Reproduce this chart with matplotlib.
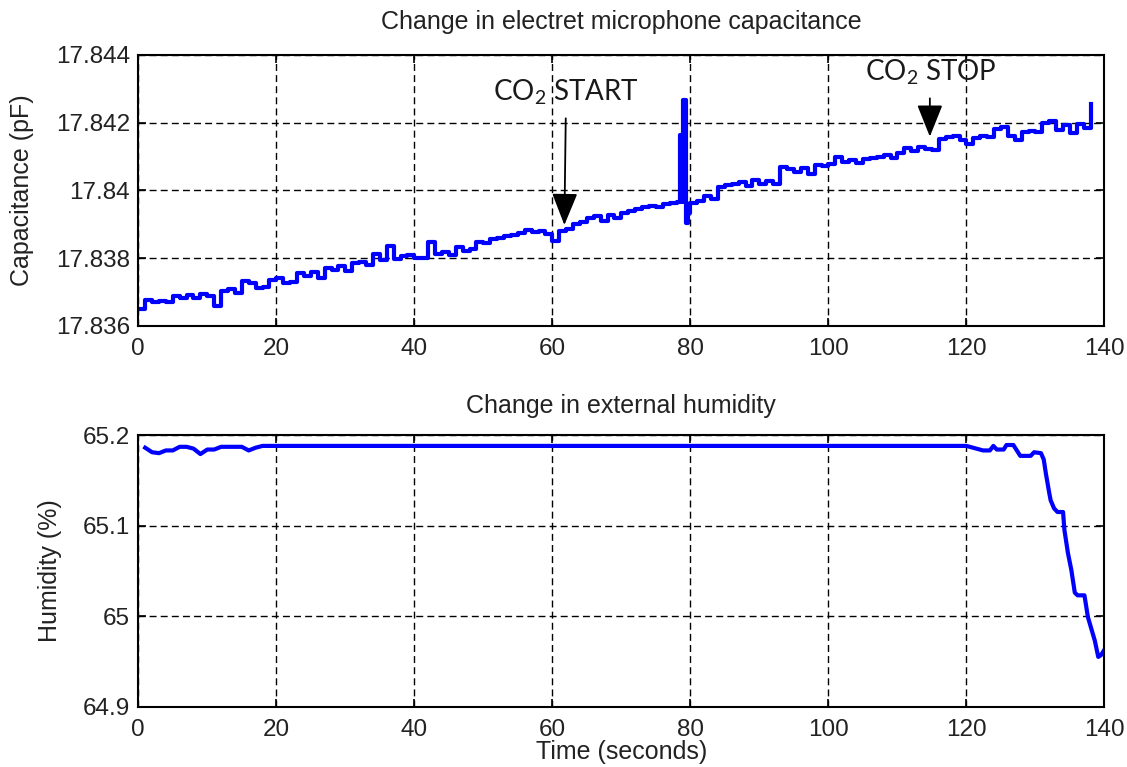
import numpy as np
import matplotlib.pyplot as plt

# capacitance samples, one per second (pF)
cap_time = np.arange(0, 139)
cap_vals = [
    17.83650, 17.83678, 17.83670, 17.83675, 17.83672, 17.83688, 17.83684, 17.83690, 17.83682, 17.83694,
    17.83688, 17.83660, 17.83702, 17.83708, 17.83698, 17.83732, 17.83728, 17.83712, 17.83714, 17.83735,
    17.83742, 17.83728, 17.83730, 17.83757, 17.83748, 17.83760, 17.83742, 17.83770, 17.83766, 17.83778,
    17.83762, 17.83785, 17.83788, 17.83780, 17.83812, 17.83796, 17.83835, 17.83798, 17.83806, 17.83810,
    17.83802, 17.83800, 17.83848, 17.83812, 17.83818, 17.83810, 17.83834, 17.83822, 17.83826, 17.83848,
    17.83845, 17.83858, 17.83860, 17.83866, 17.83870, 17.83875, 17.83882, 17.83876, 17.83880, 17.83872,
    17.83850, 17.83880, 17.83886, 17.83902, 17.83906, 17.83918, 17.83925, 17.83910, 17.83928, 17.83920,
    17.83934, 17.83938, 17.83945, 17.83950, 17.83955, 17.83952, 17.83960, 17.83962, 17.83966, 17.83966,
    17.83962, 17.83970, 17.83985, 17.83975, 17.84010, 17.84016, 17.84018, 17.84025, 17.84012, 17.84030,
    17.84018, 17.84028, 17.84020, 17.84070, 17.84062, 17.84055, 17.84065, 17.84050, 17.84075, 17.84072,
    17.84078, 17.84100, 17.84085, 17.84090, 17.84080, 17.84092, 17.84095, 17.84098, 17.84105, 17.84095,
    17.84110, 17.84125, 17.84118, 17.84128, 17.84122, 17.84120, 17.84152, 17.84158, 17.84160, 17.84148,
    17.84138, 17.84155, 17.84162, 17.84158, 17.84182, 17.84186, 17.84160, 17.84150, 17.84172, 17.84176,
    17.84172, 17.84200, 17.84205, 17.84180, 17.84192, 17.84170, 17.84195, 17.84185, 17.84255,
]
# glitch around t = 79 s
spike_time = [78.5, 79.0, 79.4, 79.6]
spike_vals = [17.84164, 17.84267, 17.83903, 17.83935]

# external humidity (%)
hum_time = [1, 2, 3, 4, 5, 6, 7, 8, 9, 10, 11, 12, 13, 15, 16, 17, 18,
            120, 122.4, 123.4, 123.9, 124.4, 125.4, 125.8, 126.8, 127.8, 129.3, 129.8,
            130.8, 131.2, 131.5, 132.0, 132.2, 132.7, 133.2, 134.0, 134.2, 134.7,
            135.2, 135.7, 136.1, 137.1, 137.6, 138.6, 139.1, 139.5, 140.0]
hum_vals = [65.186, 65.181, 65.180, 65.183, 65.183, 65.187, 65.187, 65.185, 65.179, 65.184,
            65.184, 65.187, 65.187, 65.187, 65.183, 65.186, 65.188,
            65.188, 65.183, 65.183, 65.188, 65.184, 65.184, 65.189, 65.189, 65.177, 65.177, 65.181,
            65.180, 65.173, 65.158, 65.136, 65.128, 65.119, 65.115, 65.115, 65.095, 65.070,
            65.051, 65.026, 65.023, 65.023, 64.999, 64.973, 64.955, 64.957, 64.963]

t_all = np.concatenate([cap_time, spike_time])
c_all = np.concatenate([cap_vals, spike_vals])
order = np.argsort(t_all, kind='stable')
t_all = t_all[order]
c_all = c_all[order]

plt.rcParams['font.family'] = ['Liberation Sans', 'DejaVu Sans']
txt = '#222222'
fs = 17.5


def style_axes(ax):
    ax.grid(True, color='black', linestyle=(0, (5, 3)), linewidth=1.0)
    ax.tick_params(direction='in', length=6, width=1.2, top=True, right=True,
                   labelsize=fs, labelcolor=txt)
    ax.tick_params(axis='x', pad=9)
    ax.tick_params(axis='y', pad=6)
    for s in ax.spines.values():
        s.set_linewidth(1.5)
    ax.set_xlim(0, 140)
    ax.set_xticks(np.arange(0, 141, 20))


fig = plt.figure(figsize=(11.27, 7.67), dpi=100)
xc = 0.1227 + 0.8573 / 2

ax1 = fig.add_axes([0.1227, 0.5750, 0.8573, 0.3533])
ax1.plot(t_all, c_all, color='#0000ff', linewidth=3.0, drawstyle='steps-post')
style_axes(ax1)
ax1.set_ylim(17.836, 17.844)
ax1.set_yticks([17.836, 17.838, 17.84, 17.842, 17.844])
ax1.set_yticklabels(['17.836', '17.838', '17.84', '17.842', '17.844'])
fig.text(xc, 0.9713, 'Change in electret microphone capacitance', fontsize=18,
         color=txt, ha='center', va='center')
ax1.set_ylabel('Capacitance (pF)', fontsize=18, color=txt, va='center')
ax1.yaxis.set_label_coords(-0.1204, 0.5)

arrow = dict(arrowstyle='-|>,head_length=1.0,head_width=0.4', color='black',
             lw=1.3, mutation_scale=20, shrinkA=0, shrinkB=0)
ax1.annotate('', xy=(61.74, 17.83898), xytext=(61.94, 17.84213), arrowprops=arrow)
ax1.annotate('', xy=(114.7, 17.84159), xytext=(114.7, 17.84272), arrowprops=arrow)
ax1.text(51.4, 17.84267, r'CO$_\mathregular{2}$ START', fontsize=20, family='Lato',
         color='#1a1a1a', va='baseline', ha='left')
ax1.text(105.3, 17.84326, r'CO$_\mathregular{2}$ STOP', fontsize=20, family='Lato',
         color='#1a1a1a', va='baseline', ha='left')

ax2 = fig.add_axes([0.1227, 0.0786, 0.8573, 0.3542])
ax2.plot(hum_time, hum_vals, color='#0000ff', linewidth=3.0)
style_axes(ax2)
ax2.set_ylim(64.9, 65.2)
ax2.set_yticks([64.9, 65.0, 65.1, 65.2])
ax2.set_yticklabels(['64.9', '65', '65.1', '65.2'])
fig.text(xc, 0.4707, 'Change in external humidity', fontsize=18,
         color=txt, ha='center', va='center')
ax2.set_ylabel('Humidity (%)', fontsize=18, color=txt, va='center')
ax2.yaxis.set_label_coords(-0.0914, 0.5)
ax2.set_xlabel('Time (seconds)', fontsize=18, color=txt)
ax2.xaxis.set_label_coords(0.5, -0.167)
ax2.xaxis.label.set_va('center')

fig.savefig('out.png', dpi=100)
